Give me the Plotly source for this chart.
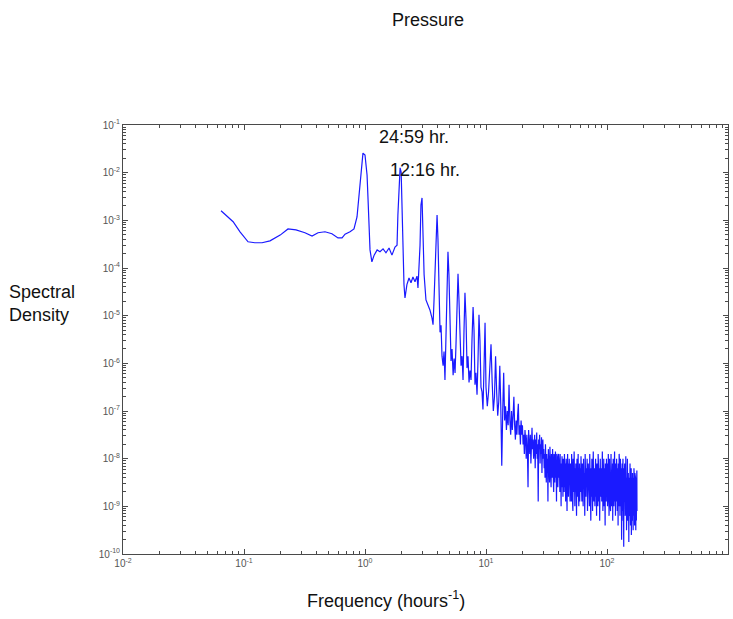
import numpy as np
import plotly.graph_objects as go

# ---------------- data ----------------
# Low-frequency continuum and the tidal peaks: frequency and log10(spectral density)
freq_tidal = [0.0646, 0.0724, 0.0813, 0.0927, 0.108, 0.123, 0.141, 0.164, 0.199, 0.231,
              0.269, 0.319, 0.365, 0.409, 0.467, 0.533, 0.598, 0.646, 0.684, 0.752,
              0.811, 0.859, 0.891, 0.927, 0.962, 1.0, 1.04, 1.06, 1.10, 1.14,
              1.19, 1.26, 1.33, 1.41, 1.49, 1.58, 1.67, 1.77, 1.84, 1.87,
              1.91, 1.95, 1.99, 2.02, 2.06, 2.10, 2.14, 2.22, 2.31, 2.40,
              2.49, 2.59, 2.69, 2.74, 2.85, 2.90, 2.96, 3.01, 3.08, 3.19,
              3.32, 3.44, 3.58, 3.65, 3.72, 3.86, 3.94, 4.01, 4.09, 4.17,
              4.25, 4.33, 4.42, 4.50, 4.58, 4.67, 4.76, 4.85, 4.94, 5.04,
              5.14, 5.24, 5.35, 5.45, 5.55, 5.65, 5.75, 5.87, 5.98, 6.10,
              6.22, 6.34, 6.46, 6.58, 6.70, 6.84, 6.97, 7.10, 7.24, 7.38,
              7.52, 7.66, 7.82, 7.96, 8.11, 8.26, 8.43, 8.59, 8.75, 8.91,
              9.09, 9.27, 9.44, 9.62, 9.82]
log_psd_tidal = [-2.80, -2.91, -3.03, -3.24, -3.45, -3.47, -3.47, -3.43, -3.31, -3.18,
                 -3.20, -3.26, -3.33, -3.26, -3.24, -3.28, -3.37, -3.37, -3.29, -3.24,
                 -3.18, -2.93, -2.47, -1.94, -1.59, -1.63, -2.05, -2.57, -3.62, -3.87,
                 -3.73, -3.62, -3.66, -3.60, -3.68, -3.58, -3.73, -3.56, -3.52, -2.89,
                 -2.15, -1.90, -1.99, -2.78, -3.83, -4.35, -4.63, -4.35, -4.21, -4.31,
                 -4.19, -4.29, -4.17, -4.42, -3.52, -2.68, -2.53, -3.20, -4.14, -4.67,
                 -4.79, -4.88, -5.05, -5.19, -4.67, -3.41, -2.89, -3.41, -4.67, -5.35,
                 -5.20, -5.85, -6.05, -5.75, -6.35, -5.20, -4.10, -3.66, -4.14, -5.30,
                 -5.95, -5.70, -6.25, -5.90, -6.20, -5.60, -4.67, -4.12, -4.67, -5.72,
                 -6.05, -5.85, -6.35, -5.30, -4.52, -5.09, -6.10, -5.85, -6.40, -6.15,
                 -6.35, -5.51, -4.82, -5.30, -6.45, -6.20, -6.66, -5.93, -4.98, -5.51,
                 -6.50, -6.60, -6.97, -6.14, -5.15]

# Noisy part 1: regular frequency bins from 10 with spacing 0.25
noise1_freq_start = 10.0
noise1_freq_step = 0.25
log_psd_noise1 = [
    # 10 - 19.75
    -6.5, -6.9, -6.6, -6.1, -5.6, -6.4, -7.0, -6.7, -5.85, -6.6,
    -7.1, -6.8, -6.05, -6.9, -8.15, -7.0, -6.2, -7.2, -6.9, -7.4,
    -7.0, -7.3, -6.45, -7.2, -7.5, -7.0, -7.4, -7.1, -6.7, -7.3,
    -7.6, -7.2, -7.5, -7.1, -6.85, -7.5, -7.3, -7.7, -7.2, -7.5,
    # 20 - 29.75
    -7.3, -7.7, -7.5, -7.9, -7.4, -7.6, -8.0, -7.5, -7.8, -8.6,
    -7.4, -7.7, -7.9, -7.5, -8.1, -7.6, -7.35, -7.8, -7.6, -8.0,
    -7.7, -7.5, -8.2, -7.6, -7.9, -7.45, -8.0, -7.7, -8.9, -7.6,
    -7.8, -7.5, -8.1, -7.7, -7.9, -7.55, -8.3, -7.8, -7.6, -8.0,
    # 30 - 39.75
    -7.8, -8.2, -7.9, -8.4, -7.7, -8.1, -8.5, -7.9, -8.3, -8.0,
    -8.9, -7.8, -8.2, -8.0, -8.5, -7.75, -8.3, -8.1, -8.6, -7.9,
    -8.2, -8.4, -7.8, -8.3, -8.0, -8.7, -7.9, -8.2, -8.5, -8.0,
    -7.85, -8.4, -8.1, -8.9, -7.9, -8.3, -8.0, -8.6, -8.2, -7.9,
    # 40 - 49.75
    -8.0, -8.4, -8.2, -8.7, -7.9, -8.5, -8.3, -9.0, -8.1, -8.4,
    -7.95, -8.6, -8.3, -8.8, -8.0, -8.5, -8.2, -8.7, -7.9, -8.4,
    -8.6, -8.1, -8.9, -8.3, -8.0, -8.5, -8.2, -9.1, -8.4, -7.9,
    -8.6, -8.3, -8.8, -8.1, -8.5, -8.0, -8.7, -8.3, -8.9, -8.2,
    # 50 - 59.75
    -8.1, -8.6, -8.3, -8.9, -7.9, -8.5, -8.2, -8.8, -8.4, -9.1,
    -8.0, -8.5, -8.3, -8.7, -7.85, -8.6, -8.4, -9.0, -8.2, -8.7,
    -8.5, -8.1, -8.9, -8.3, -9.2, -8.4, -8.0, -8.6, -8.8, -8.2,
    -8.5, -7.9, -8.7, -8.4, -9.0, -8.3, -8.6, -8.1, -8.9, -8.5,
]

# Noisy part 2: regular frequency bins from 60 with spacing 0.5
noise2_freq_start = 60.0
noise2_freq_step = 0.5
log_psd_noise2 = [
    # 60 - 69.5
    -8.2, -8.7, -7.95, -8.5, -8.9, -8.1, -8.4, -9.0, -8.0, -8.6,
    -8.3, -9.2, -7.9, -8.5, -8.8, -8.2, -8.6, -8.0, -9.1, -8.4,
    # 70 - 79.5
    -8.1, -8.7, -8.3, -9.0, -7.9, -8.6, -8.4, -9.3, -8.2, -8.8,
    -8.0, -8.5, -9.1, -8.3, -7.85, -8.7, -8.9, -8.2, -8.6, -9.0,
    # 80 - 89.5
    -8.3, -8.0, -8.8, -8.5, -9.2, -8.1, -8.6, -8.4, -9.0, -7.9,
    -8.7, -8.3, -8.9, -8.2, -9.3, -8.5, -8.0, -8.8, -8.4, -8.6,
    # 90 - 99.5
    -8.2, -8.9, -8.4, -7.85, -8.7, -9.1, -8.3, -8.6, -8.0, -9.0,
    -8.5, -8.2, -8.8, -9.4, -8.1, -8.6, -8.4, -8.9, -8.0, -8.7,
    # 100 - 109.5
    -8.5, -8.1, -9.0, -8.4, -8.7, -7.9, -8.8, -8.3, -9.2, -8.5,
    -8.0, -8.6, -8.9, -8.2, -9.1, -8.4, -7.9, -8.7, -8.5, -9.0,
    # 110 - 119.5
    -8.3, -8.8, -8.1, -9.3, -8.5, -8.0, -8.7, -8.4, -9.0, -8.2,
    -8.6, -7.85, -8.9, -8.4, -8.6, -9.2, -8.1, -8.7, -8.3, -8.9,
    # 120 - 129.5
    -8.0, -8.6, -8.4, -9.1, -8.2, -8.8, -8.5, -9.4, -8.1, -8.7,
    -8.3, -9.0, -7.9, -8.6, -8.8, -8.2, -9.2, -8.5, -8.0, -8.7,
    # 130 - 139.5
    -8.4, -9.0, -8.2, -8.7, -9.7, -8.3, -8.6, -8.1, -9.1, -8.5,
    -8.8, -8.0, -9.3, -8.4, -8.7, -9.85, -8.2, -8.6, -8.9, -8.3,
    # 140 - 149.5
    -8.1, -8.8, -8.5, -9.2, -8.3, -8.7, -7.95, -9.0, -8.6, -8.4,
    -9.5, -8.2, -8.8, -8.5, -9.1, -8.0, -8.6, -9.3, -8.4, -8.7,
    # 150 - 159.5
    -8.3, -8.9, -8.6, -9.75, -8.4, -8.7, -8.2, -9.2, -8.5, -8.8,
    -8.1, -9.0, -8.6, -9.4, -8.3, -8.7, -8.9, -8.2, -9.6, -8.5,
    # 160 - 169.5
    -8.4, -9.0, -8.6, -8.8, -9.3, -8.3, -8.7, -9.1, -8.5, -9.5,
    -8.4, -8.9, -8.6, -9.2, -8.2, -8.8, -9.0, -8.5, -9.4, -8.7,
    # 170 - 177
    -8.3, -8.9, -8.6, -9.2, -8.4, -8.8, -9.5, -8.5, -9.0, -8.7,
    -9.3, -8.6, -8.9, -8.25, -9.1,
]

x_tick_exponents = [-2, -1, 0, 1, 2, 3]
y_tick_exponents = [-10, -9, -8, -7, -6, -5, -4, -3, -2, -1]

peak_labels = ["24:59 hr.", "12:16 hr."]

# ---------------- build series ----------------
freq_noise1 = noise1_freq_start + noise1_freq_step * np.arange(len(log_psd_noise1))
freq_noise2 = noise2_freq_start + noise2_freq_step * np.arange(len(log_psd_noise2))
freq = np.concatenate([np.array(freq_tidal), freq_noise1, freq_noise2])
psd = 10.0 ** np.concatenate([np.array(log_psd_tidal),
                              np.array(log_psd_noise1),
                              np.array(log_psd_noise2)])

FONT = "Liberation Sans, Arial, Helvetica, sans-serif"
AXC = "#4a4a4a"

fig = go.Figure()
fig.add_trace(go.Scatter(x=freq, y=psd, mode="lines",
                         line=dict(color="#1a1aff", width=1.2),
                         hoverinfo="skip", showlegend=False))

tickfont = dict(family=FONT, size=10, color="#555555")

fig.update_xaxes(
    type="log", range=[-2, 3],
    tickmode="array",
    tickvals=[10.0 ** e for e in x_tick_exponents],
    ticktext=[f"10<sup>{e}</sup>" for e in x_tick_exponents],
    ticks="inside", ticklen=5, tickcolor=AXC, tickwidth=1,
    showline=True, linecolor=AXC, linewidth=1, mirror="allticks",
    showgrid=False, zeroline=False, tickfont=tickfont,
    minor=dict(ticks="inside", ticklen=3, tickcolor=AXC, dtick="D1", showgrid=False),
)
fig.update_yaxes(
    type="log", range=[-10, -1],
    tickmode="array",
    tickvals=[10.0 ** e for e in y_tick_exponents],
    ticktext=[f"10<sup>{e}</sup>" for e in y_tick_exponents],
    ticks="inside", ticklen=5, tickcolor=AXC, tickwidth=1,
    showline=True, linecolor=AXC, linewidth=1, mirror="allticks",
    showgrid=False, zeroline=False, tickfont=tickfont,
    minor=dict(ticks="inside", ticklen=3, tickcolor=AXC, dtick="D1", showgrid=False),
)

txt = dict(family=FONT, size=18, color="#111111")
annotations = [
    dict(text="Pressure", x=0.504, y=1.245, xref="paper", yref="paper",
         showarrow=False, xanchor="center", yanchor="middle", font=txt),
    dict(text="Spectral<br>Density", x=-0.1917, y=0.583, xref="paper", yref="paper",
         showarrow=False, xanchor="left", yanchor="middle", align="left", font=txt),
    dict(text="Frequency (hours<sup>-1</sup>)", x=0.435, y=-0.107, xref="paper", yref="paper",
         showarrow=False, xanchor="center", yanchor="middle", font=txt),
    dict(text=peak_labels[0], x=0.481, y=0.972, xref="paper", yref="paper",
         showarrow=False, xanchor="center", yanchor="middle", font=txt),
    dict(text=peak_labels[1], x=0.499, y=0.895, xref="paper", yref="paper",
         showarrow=False, xanchor="center", yanchor="middle", font=txt),
]

fig.update_layout(
    width=733, height=619, autosize=False,
    margin=dict(l=123, r=5, t=125, b=65, pad=0),
    paper_bgcolor="white", plot_bgcolor="white",
    annotations=annotations,
    font=dict(family=FONT),
)

fig.write_html("out.html", config={"displayModeBar": False},
               post_script="document.body.style.margin='0';document.body.style.overflow='hidden';")
